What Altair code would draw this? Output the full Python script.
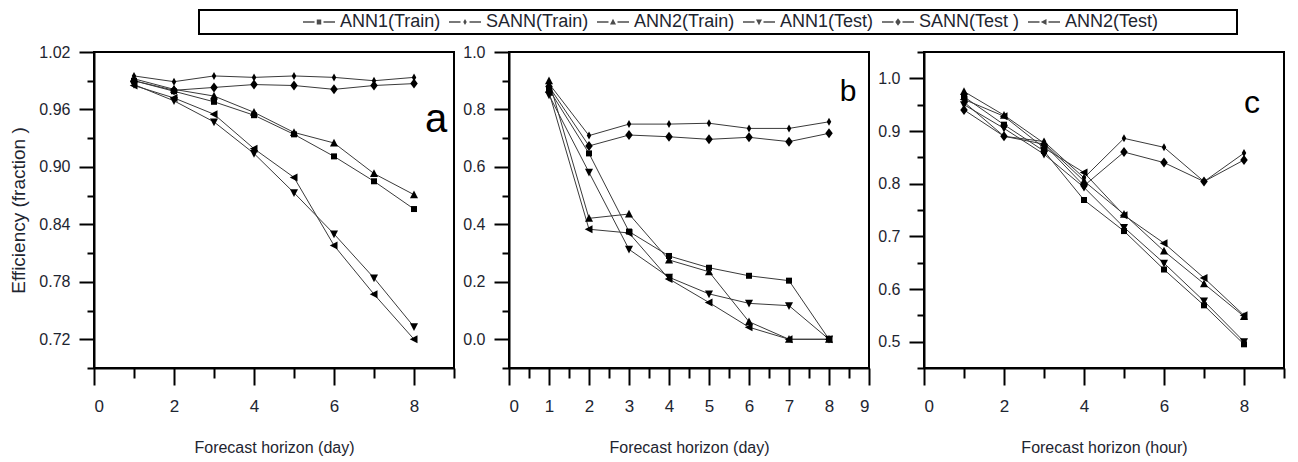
import altair as alt
import pandas as pd

horizon = [1, 2, 3, 4, 5, 6, 7, 8]
series = ["ANN1(Train)", "SANN(Train)", "ANN2(Train)", "ANN1(Test)", "SANN(Test )", "ANN2(Test)"]

# panel a (day)
a_ann1_train = [0.990, 0.979, 0.968, 0.954, 0.934, 0.911, 0.885, 0.856]
a_sann_train = [0.995, 0.989, 0.995, 0.9935, 0.995, 0.9935, 0.990, 0.9935]
a_ann2_train = [0.992, 0.981, 0.974, 0.957, 0.936, 0.925, 0.893, 0.871]
a_ann1_test = [0.986, 0.969, 0.947, 0.914, 0.873, 0.830, 0.784, 0.733]
a_sann_test = [0.990, 0.980, 0.983, 0.986, 0.985, 0.981, 0.985, 0.987]
a_ann2_test = [0.985, 0.972, 0.955, 0.919, 0.889, 0.818, 0.767, 0.720]

# panel b (day)
b_ann1_train = [0.87, 0.647, 0.375, 0.290, 0.249, 0.221, 0.204, 0.0]
b_sann_train = [0.89, 0.709, 0.749, 0.749, 0.752, 0.734, 0.734, 0.757]
b_ann2_train = [0.90, 0.421, 0.436, 0.276, 0.235, 0.061, 0.0, 0.0]
b_ann1_test = [0.85, 0.581, 0.313, 0.216, 0.158, 0.125, 0.117, 0.0]
b_sann_test = [0.88, 0.673, 0.711, 0.705, 0.696, 0.703, 0.688, 0.717]
b_ann2_test = [0.86, 0.383, 0.370, 0.210, 0.128, 0.042, 0.0, 0.0]

# panel c (hour)
c_ann1_train = [0.965, 0.912, 0.862, 0.769, 0.710, 0.637, 0.569, 0.495]
c_sann_train = [0.955, 0.890, 0.880, 0.811, 0.886, 0.869, 0.804, 0.858]
c_ann2_train = [0.975, 0.930, 0.877, 0.805, 0.742, 0.672, 0.610, 0.548]
c_ann1_test = [0.950, 0.905, 0.856, 0.793, 0.717, 0.649, 0.577, 0.500]
c_sann_test = [0.940, 0.890, 0.875, 0.796, 0.860, 0.840, 0.804, 0.845]
c_ann2_test = [0.960, 0.928, 0.868, 0.821, 0.740, 0.687, 0.621, 0.550]

FONT = "Liberation Sans"
TXT = "#1e2530"
PW, PH = 360, 316

marker_paths = [
    "M-0.6,-0.6H0.6V0.6H-0.6Z",
    "M0,-0.8L0.45,0L0,0.8L-0.45,0Z",
    "M0,-0.85L0.8,0.7L-0.8,0.7Z",
    "M0,0.85L0.8,-0.7L-0.8,-0.7Z",
    "M0,-1L0.75,0L0,1L-0.75,0Z",
    "M-0.85,0L0.7,-0.8L0.7,0.8Z",
]
# dashes drawn as thin filled bars so that they take the symbol fill
dash = "M-3.2,-0.15H-0.9V0.15H-3.2ZM0.9,-0.15H3.2V0.15H0.9Z"
legend_paths = [
    dash + "M-0.45,-0.5H0.45V0.5H-0.45Z",
    dash + "M0,-0.6L0.35,0L0,0.6L-0.35,0Z",
    dash + "M0,-0.65L0.6,0.5L-0.6,0.5Z",
    dash + "M0,0.65L0.6,-0.5L-0.6,-0.5Z",
    dash + "M0,-0.75L0.55,0L0,0.75L-0.55,0Z",
    dash + "M-0.65,0L0.5,-0.6L0.5,0.6Z",
]


def table(cols):
    rows = []
    for s, vals in zip(series, cols):
        for h, v in zip(horizon, vals):
            rows.append({"h": h, "v": v, "series": s})
    return pd.DataFrame(rows)


def panel(df, ydom, ymajor, yminor, yfmt, xmajor, xminor, xtitle, ytitle, letter, lx, ly, lsize):
    xs = alt.Scale(domain=[0, 9], nice=False, zero=False)
    ys = alt.Scale(domain=ydom, nice=False, zero=False)
    base = alt.Chart(df)
    yax_kw = dict(values=ymajor, format=yfmt, tickSize=15, labelPadding=9,
                  labelFontSize=16, grid=False, title=ytitle)
    if ytitle:
        yax_kw.update(titleFontSize=19, titlePadding=10)
    lines = base.mark_line(color="#3a3a3a", strokeWidth=1).encode(
        x=alt.X("h:Q", scale=xs, axis=alt.Axis(values=xmajor, format="d", tickSize=17,
                                               labelPadding=13, labelFontSize=17, grid=False,
                                               title=xtitle, titleFontSize=16, titlePadding=25)),
        y=alt.Y("v:Q", scale=ys, axis=alt.Axis(**yax_kw)),
        detail="series:N",
    )
    points = base.mark_point(filled=True, color="black", size=100, opacity=1).encode(
        x=alt.X("h:Q", scale=xs, axis=None),
        y=alt.Y("v:Q", scale=ys, axis=None),
        shape=alt.Shape("series:N", sort=series,
                        scale=alt.Scale(domain=series, range=marker_paths), legend=None),
    )
    minor = base.mark_point(opacity=0).encode(
        x=alt.X("h:Q", scale=xs, axis=alt.Axis(values=xminor, orient="bottom", labels=False,
                                               domain=False, grid=False, tickSize=10, title=None)),
        y=alt.Y("v:Q", scale=ys, axis=alt.Axis(values=yminor, orient="left", labels=False,
                                               domain=False, grid=False, tickSize=7, title=None)),
    )
    txt = alt.Chart(pd.DataFrame({"t": [letter]})).mark_text(
        font=FONT, fontSize=lsize, color="black", align="center", baseline="alphabetic"
    ).encode(text="t:N", x=alt.value(lx), y=alt.value(ly))
    return alt.layer(lines, points, minor, txt).resolve_axis(
        x="independent", y="independent").properties(width=PW, height=PH)


pa = panel(table([a_ann1_train, a_sann_train, a_ann2_train, a_ann1_test, a_sann_test, a_ann2_test]),
           [0.69, 1.02], [0.72, 0.78, 0.84, 0.90, 0.96, 1.02],
           [0.69, 0.75, 0.81, 0.87, 0.93, 0.99], ".2f",
           [0, 2, 4, 6, 8], [1, 3, 5, 7, 9], "Forecast horizon (day)",
           "Efficiency (fraction )", "a", PW - 18, 80, 40)
pb = panel(table([b_ann1_train, b_sann_train, b_ann2_train, b_ann1_test, b_sann_test, b_ann2_test]),
           [-0.1, 1.0], [0.0, 0.2, 0.4, 0.6, 0.8, 1.0],
           [-0.1, 0.1, 0.3, 0.5, 0.7, 0.9], ".1f",
           [0, 1, 2, 3, 4, 5, 6, 7, 8, 9], [0.5, 1.5, 2.5, 3.5, 4.5, 5.5, 6.5, 7.5, 8.5],
           "Forecast horizon (day)", None, "b", PW - 21, 49, 30)
pc = panel(table([c_ann1_train, c_sann_train, c_ann2_train, c_ann1_test, c_sann_test, c_ann2_test]),
           [0.45, 1.05], [0.5, 0.6, 0.7, 0.8, 0.9, 1.0],
           [0.45, 0.55, 0.65, 0.75, 0.85, 0.95, 1.05], ".1f",
           [0, 2, 4, 6, 8], [1, 3, 5, 7, 9], "Forecast horizon (hour)", None, "c", PW - 32, 61, 32)

leg_pts = alt.Chart(pd.DataFrame({"series": series})).transform_filter("false").mark_point(
    filled=True, color="black", size=100
).encode(
    shape=alt.Shape("series:N", sort=series,
                    scale=alt.Scale(domain=series, range=legend_paths),
                    legend=alt.Legend(title=None, orient="none", legendX=216, legendY=3,
                                      direction="horizontal", labelFont=FONT, labelFontSize=18,
                                      labelColor=TXT, symbolSize=100, symbolFillColor="black",
                                      symbolStrokeWidth=0,
                                      labelOffset=12, columnPadding=8, padding=0)),
)
box = alt.Chart(pd.DataFrame({"k": [0]})).mark_rect(
    fillOpacity=0, stroke="black", strokeWidth=2
).encode(x=alt.value(105), x2=alt.value(1143), y=alt.value(0), y2=alt.value(24))
legend_chart = alt.layer(box, leg_pts).properties(
    width=1146, height=24, view=alt.ViewBackground(stroke="transparent"))

chart = alt.vconcat(
    legend_chart,
    alt.hconcat(pa, pb, pc, spacing=5),
    spacing=7,
).resolve_scale(shape="independent").properties(padding=0).configure_view(
    stroke="black", strokeWidth=2
).configure_axis(
    labelFont=FONT, titleFont=FONT, labelColor=TXT, titleColor=TXT,
    titleFontWeight="normal", domainColor="black", domainWidth=2,
    tickColor="black", tickWidth=2,
)

chart.save("out.html", embed_options={"renderer": "svg", "actions": False})
